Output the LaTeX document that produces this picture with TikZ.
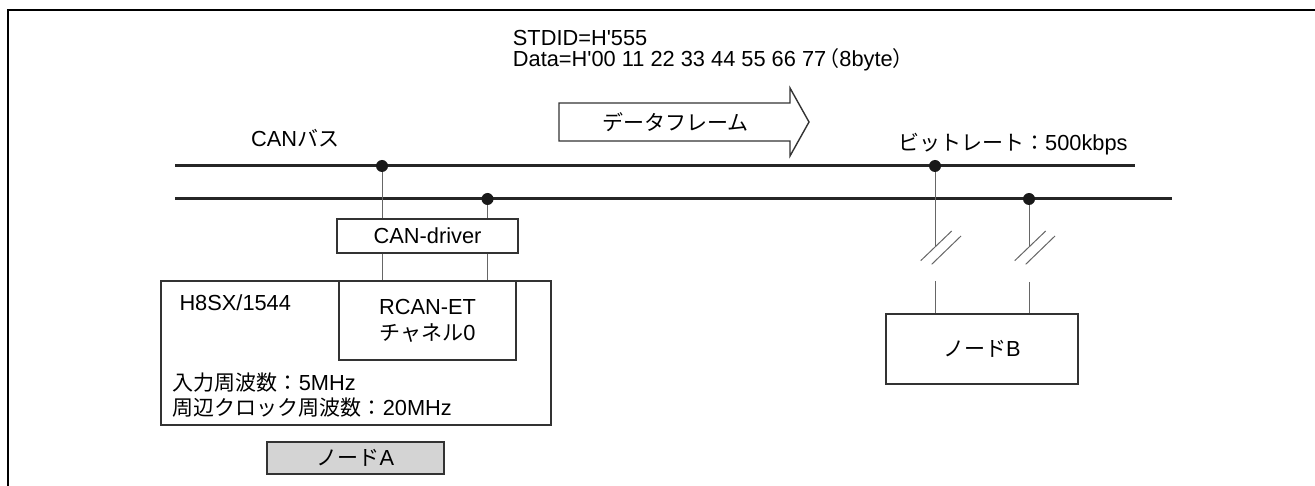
\documentclass[tikz,border=0pt]{standalone}
\usepackage{fontspec}
\setmainfont{Liberation Sans}[Ligatures=TeXOff]
\newfontfamily\jp{Noto Sans CJK JP}[Scale=0.963]
\newcommand\jpopen{\makebox[0.6em][r]{\jp （}}
\newcommand\jpclose{\makebox[0.6em][l]{\jp ）}}
\begin{document}
\begin{tikzpicture}[x=1pt,y=-1pt,font=\fontsize{21.8}{26}\selectfont]
\tikzset{
  bus/.style={line width=3pt, draw=black!85},
  tap/.style={line width=1pt, draw=black!60},
  box/.style={draw=black!80, line width=1.4pt, inner sep=0pt},
  dot/.style={circle, fill=black!90, inner sep=0pt, minimum size=12pt},
  lbl/.style={inner sep=0pt, anchor=base west},
  frameline/.style={line width=2.2pt, draw=black}
}
\useasboundingbox (0,0) rectangle (1315,486);
% outer frame
\coordinate (fbl) at (8,486);
\coordinate (ftl) at (8,10);
\coordinate (ftr) at (1315,10);
\draw[frameline] (fbl) -- (ftl) -- (ftr);
% bus lines
\coordinate (b1w) at (175,166); \coordinate (b1e) at (1135,166);
\coordinate (b2w) at (175,199); \coordinate (b2e) at (1172,199);
\draw[bus] (b1w) -- (b1e);
\draw[bus] (b2w) -- (b2e);
% node A side
\node[box, minimum width=390, minimum height=144] (mcu) at (356,353) {};
\node[box, fill=white, minimum width=177, minimum height=79, align=center] (rcan) at (427.5,320.5) {RCAN-ET\\{\jp チャネル}0};
\node[box, minimum width=181, minimum height=34] (drv) at (427.5,236) {CAN-driver};
\node[box, fill=black!17, minimum width=177, minimum height=32] (nodeA) at (355.5,458) {{\jp ノード}A};
\node[box, minimum width=192, minimum height=70] (nodeB) at (982,349) {{\jp ノード}B};
% taps
\coordinate (a1) at (382,166);
\coordinate (a2) at (487.5,199);
\coordinate (bb1) at (935,166);
\coordinate (bb2) at (1029,199);
\draw[tap] (a1) -- (a1 |- drv.north);
\draw[tap] (a2) -- (a2 |- drv.north);
\draw[tap] (drv.south -| a1) -- (rcan.north -| a1);
\draw[tap] (drv.south -| a2) -- (rcan.north -| a2);
\coordinate (k1) at (935,246);
\coordinate (k2) at (1029,246);
\coordinate (r1) at (935,281);
\coordinate (r2) at (1029,282);
\draw[tap] (bb1) -- (k1);
\draw[tap] (bb2) -- (k2);
\draw[tap] (r1) -- (r1 |- nodeB.north);
\draw[tap] (r2) -- (r2 |- nodeB.north);
\foreach \k in {k1,k2}{
  \draw[tap] ([shift={(-14.3,14.7)}]\k) -- ++(31,-29.7);
  \draw[tap] ([shift={(-3.3,18.3)}]\k) -- ++(29.3,-28.3);
}
\node[dot] (da1) at (a1) {};
\node[dot] (da2) at (a2) {};
\node[dot] (db1) at (bb1) {};
\node[dot] (db2) at (bb2) {};
% data frame arrow
\draw[box, fill=white] (559,103) -- (790,103) -- (790,88) -- (809,122) -- (790,156) -- (790,141) -- (559,141) -- cycle;
\node (frame) at (675.5,122) {\jp データフレーム};
% labels
\node[lbl] (canbus) at (251,147) {CAN{\jp バス}};
\node[lbl] (rate) at (898,151) {{\jp ビットレート：}500kbps};
\node[lbl] (stdid) at (512.7,46) {STDID=H'555};
\node[lbl] (data) at (512.7,66.5) {Data=H'00 11 22 33 44 55 66 77\jpopen 8byte\jpclose};
\node[lbl] (chip) at (179.3,310.7) {H8SX/1544};
\node[lbl] (fin) at (172.7,390) {{\jp 入力周波数：}5MHz};
\node[lbl] (fper) at (172.7,415) {{\jp 周辺クロック周波数：}20MHz};
\end{tikzpicture}
\end{document}
